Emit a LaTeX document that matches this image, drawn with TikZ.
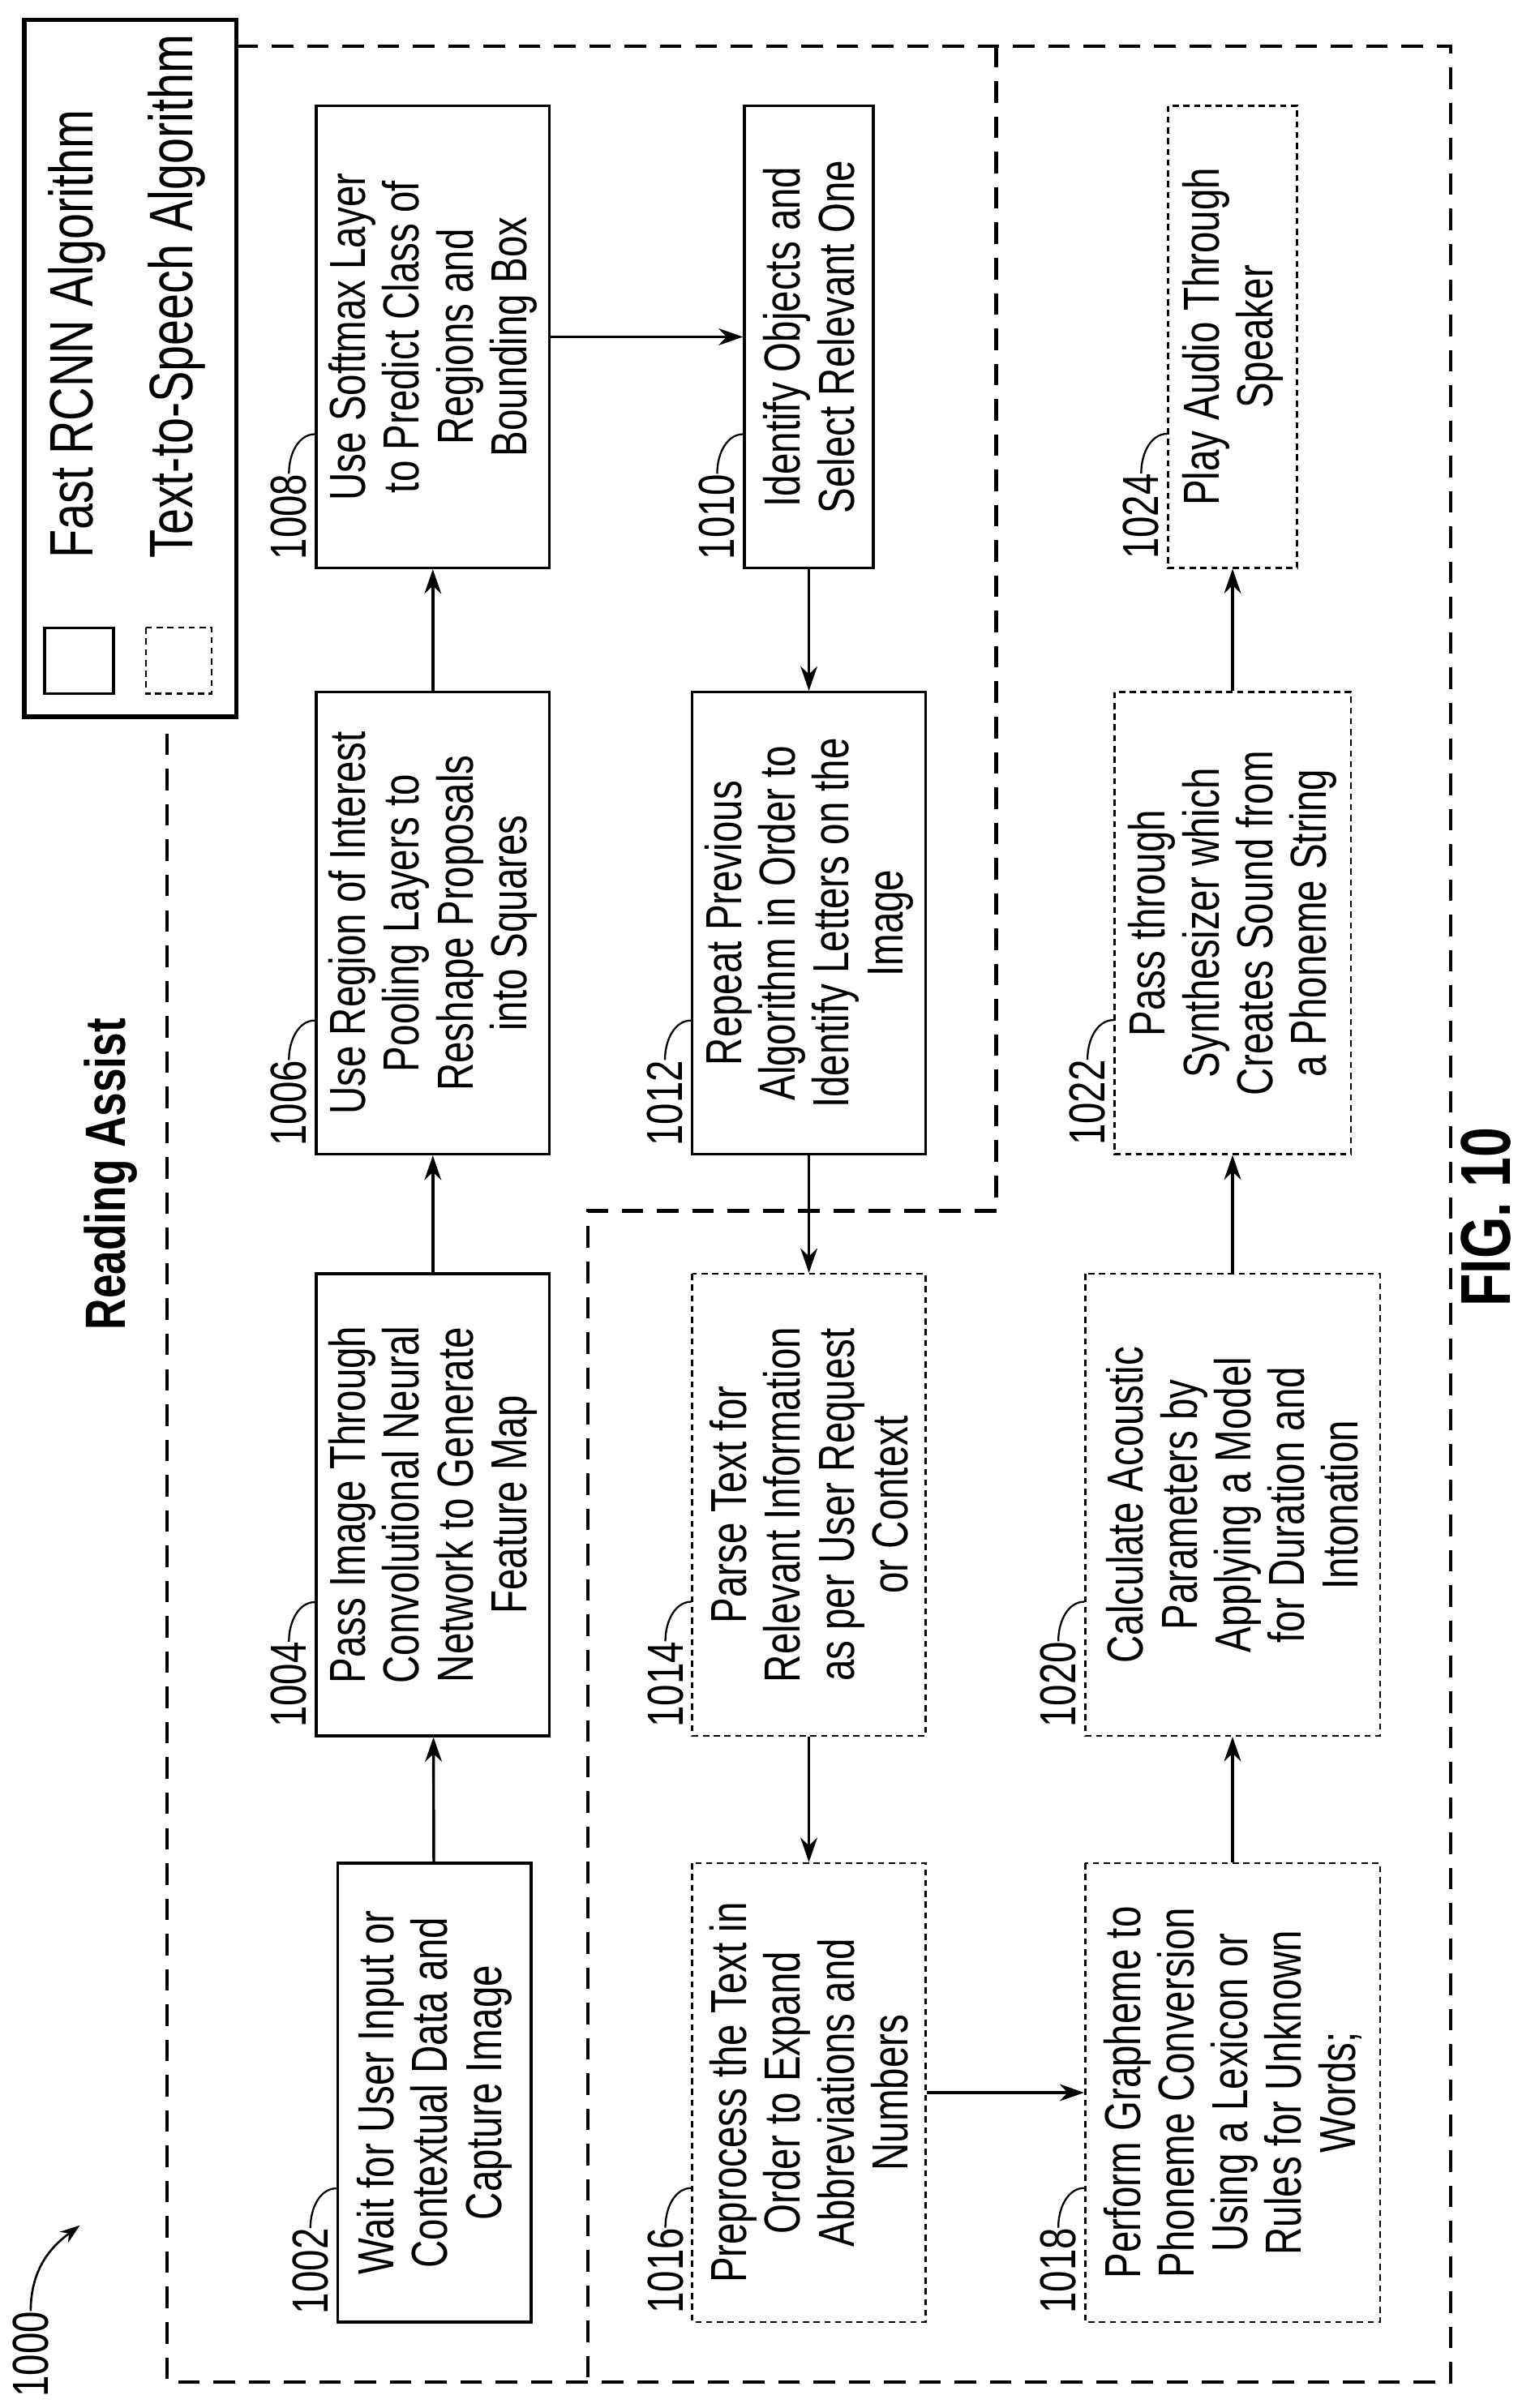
\documentclass[tikz,border=0pt]{standalone}
\usepackage{fontspec}
\setmainfont{Liberation Sans}[FakeStretch=0.76]
\usetikzlibrary{arrows.meta,calc}
\begin{document}
\begin{tikzpicture}[x=1pt,y=-1pt,
  base/.style={rotate=90,inner sep=0pt,align=center,font=\fontsize{33}{35}\selectfont},
  solidbox/.style={base,draw,line width=1.8pt},
  dashbox/.style={base,draw,line width=1.3pt,dash pattern=on 4pt off 3pt},
  lbl/.style={rotate=90,inner sep=0pt,font=\fontsize{33}{35}\selectfont,anchor=south west},
  region/.style={line width=2.2pt,dash pattern=on 14pt off 9pt},
  arr/.style={line width=1.8pt,-{Stealth[length=16pt,width=11pt]}}]
\useasboundingbox (0,0) rectangle (1000,1569);
\newcommand{\bx}[8]{%
  \node[#6,minimum width=#5,minimum height=#4] (#1) at (#2,#3) {#7};
  \node[lbl] (l#1) at ($(#1.north west)+(-5,-6)$) {#8};
  \draw[line width=1.2pt] (l#1.east) .. controls +(0,-14) and +(-10,0) .. ($(#1.north west)+(0,-88)$);}
% legend
\node[draw,line width=3pt,minimum width=454,minimum height=138,rotate=90,inner sep=0pt] (leg) at (85,240) {};
\node[draw,line width=1.8pt,minimum width=43,minimum height=45,rotate=90,inner sep=0pt] (ls) at (51.5,430.5) {};
\node[draw,line width=1.3pt,dash pattern=on 4pt off 3pt,minimum width=43,minimum height=43,rotate=90,inner sep=0pt] (ld) at (116.5,430.5) {};
\node[rotate=90,inner sep=0pt,anchor=west,font=\fontsize{40}{42}\selectfont] (t1) at (50,364) {Fast RCNN Algorithm};
\node[rotate=90,inner sep=0pt,anchor=west,font=\fontsize{40}{42}\selectfont] (t2) at (115,364) {Text-to-Speech Algorithm};
% regions
\draw[region] (154,30) -- (945,30) -- (945,1552) -- (109,1552) -- (109,478);
\draw[region] (649,30) -- (649,789) -- (383,789) -- (383,1552);
% titles
\node[rotate=90,inner sep=0pt,font=\bfseries\fontsize{37}{40}\selectfont] (title) at (72,765) {Reading Assist};
\node[rotate=90,inner sep=0pt,font=\bfseries\fontsize{46}{48}\selectfont] (fig) at (968,793) {FIG. 10};
\node[rotate=90,inner sep=0pt,anchor=west,font=\fontsize{33}{35}\selectfont] (t1000) at (20,1562) {1000};
\coordinate (a1000) at (52,1450);
\draw[line width=1.4pt,-{Stealth[length=13pt,width=9pt]}] (t1000.east) .. controls +(0,-30) and (36,1462) .. (a1000);
% boxes
\bx{n1002}{283}{1363.5}{126}{299}{solidbox}{Wait for User Input or\\Contextual Data and\\Capture Image}{1002}
\bx{n1004}{282}{980.5}{152}{301}{solidbox}{Pass Image Through\\Convolutional Neural\\Network to Generate\\Feature Map}{1004}
\bx{n1006}{282}{601.5}{152}{301}{solidbox}{Use Region of Interest\\Pooling Layers to\\Reshape Proposals\\into Squares}{1006}
\bx{n1008}{282}{219.5}{152}{301}{solidbox}{Use Softmax Layer\\to Predict Class of\\Regions and\\Bounding Box}{1008}
\bx{n1010}{527}{219.5}{84}{301}{solidbox}{Identify Objects and\\Select Relevant One}{1010}
\bx{n1012}{527}{601.5}{152}{301}{solidbox}{Repeat Previous\\Algorithm in Order to\\Identify Letters on the\\Image}{1012}
\bx{n1014}{527}{980.5}{152}{301}{dashbox}{Parse Text for\\Relevant Information\\as per User Request\\or Context}{1014}
\bx{n1016}{527}{1363.5}{152}{299}{dashbox}{Preprocess the Text in\\Order to Expand\\Abbreviations and\\Numbers}{1016}
\bx{n1018}{803}{1363.5}{192}{299}{dashbox}{Perform Grapheme to\\Phoneme Conversion\\Using a Lexicon or\\Rules for Unknown\\Words;}{1018}
\bx{n1020}{803}{980.5}{192}{301}{dashbox}{Calculate Acoustic\\Parameters by\\Applying a Model\\for Duration and\\Intonation}{1020}
\bx{n1022}{803}{601.5}{154}{301}{dashbox}{Pass through\\Synthesizer which\\Creates Sound from\\a Phoneme String}{1022}
\bx{n1024}{803}{219.5}{84}{301}{dashbox}{Play Audio Through\\Speaker}{1024}
% arrows
\draw[arr] (n1002) -- (n1004);
\draw[arr] (n1004) -- (n1006);
\draw[arr] (n1006) -- (n1008);
\draw[arr] (n1008) -- (n1010);
\draw[arr] (n1010) -- (n1012);
\draw[arr] (n1012) -- (n1014);
\draw[arr] (n1014) -- (n1016);
\draw[arr] (n1016) -- (n1018);
\draw[arr] (n1018) -- (n1020);
\draw[arr] (n1020) -- (n1022);
\draw[arr] (n1022) -- (n1024);
\end{tikzpicture}
\end{document}
